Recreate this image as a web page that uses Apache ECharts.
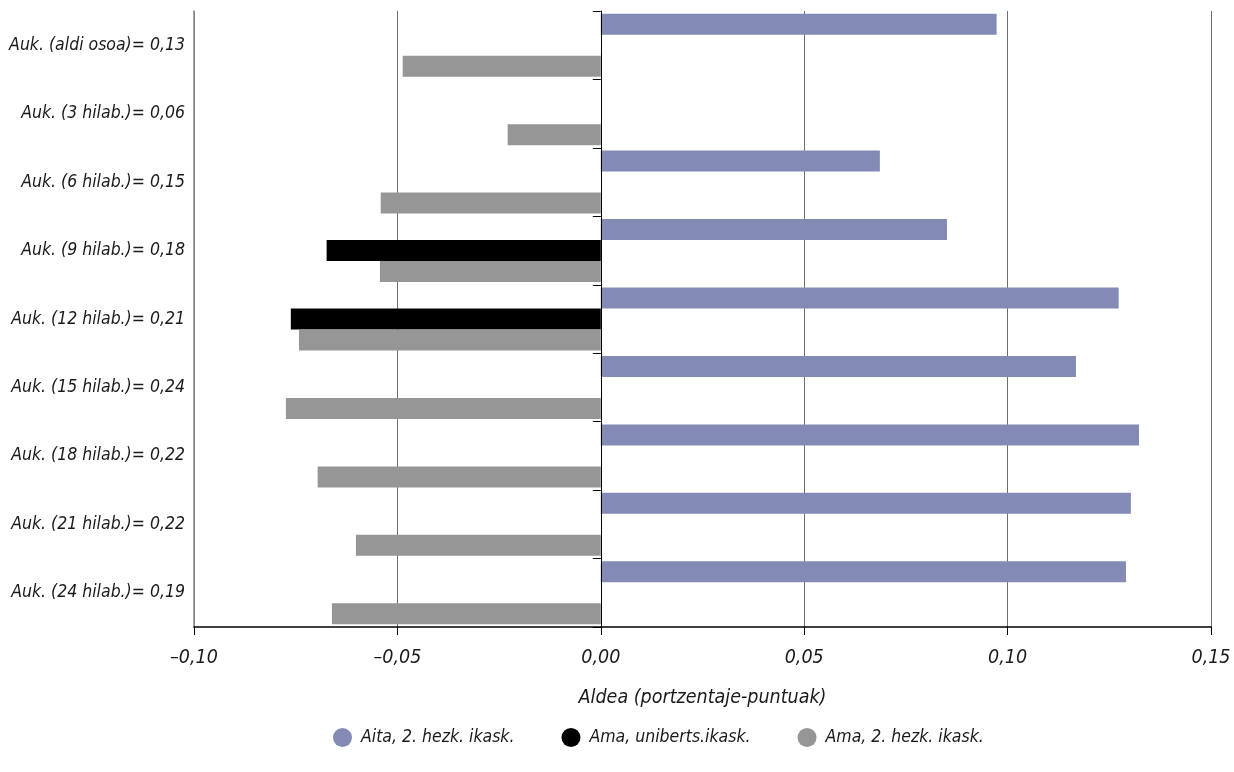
<!DOCTYPE html>
<html>
<head>
<meta charset="utf-8">
<script src="https://cdn.jsdelivr.net/npm/echarts@6/dist/echarts.min.js"></script>
<style>
html,body{margin:0;padding:0;background:#fff;}
#chart{width:1234px;height:772px;}
</style>
</head>
<body>
<div id="chart"></div>
<script>
const categories = [
  'Auk. (aldi osoa)= 0,13',
  'Auk. (3 hilab.)= 0,06',
  'Auk. (6 hilab.)= 0,15',
  'Auk. (9 hilab.)= 0,18',
  'Auk. (12 hilab.)= 0,21',
  'Auk. (15 hilab.)= 0,24',
  'Auk. (18 hilab.)= 0,22',
  'Auk. (21 hilab.)= 0,22',
  'Auk. (24 hilab.)= 0,19'
];
const seriesNames = ['Aita, 2. hezk. ikask.', 'Ama, uniberts.ikask.', 'Ama, 2. hezk. ikask.'];
const aita2hezk = [0.0973, null, 0.0686, 0.0851, 0.1273, 0.1168, 0.1323, 0.1303, 0.1291];
const amaUnib = [null, null, null, -0.0674, -0.0762, null, null, null, null];
const ama2hezk = [-0.0487, -0.0229, -0.0541, -0.0543, -0.0742, -0.0774, -0.0696, -0.0602, -0.0661];
const xTickValues = [-0.10, -0.05, 0.00, 0.05, 0.10, 0.15];
const xTickLabels = ['–0,10', '–0,05', '0,00', '0,05', '0,10', '0,15'];
const xAxisName = 'Aldea (portzentaje-puntuak)';
const colors = ['#838bb4', '#000000', '#969696'];

const FONT = '"Liberation Sans Narrow", "DejaVu Sans Condensed", "Roboto", sans-serif';

function tickLabel(v) {
  const r = Math.round(v * 100);
  for (let i = 0; i < xTickValues.length; i++) {
    if (Math.round(xTickValues[i] * 100) === r) return xTickLabels[i];
  }
  return '';
}

const chart = echarts.init(document.getElementById('chart'), null, {renderer: 'canvas'});
const seriesData = [aita2hezk, amaUnib, ama2hezk];
chart.setOption({
  animation: false,
  color: colors,
  textStyle: {fontFamily: FONT},
  grid: {left: 194, right: 23, top: 11, bottom: 145, containLabel: false},
  legend: {
    bottom: 20,
    left: 328,
    padding: 5,
    icon: 'circle',
    itemWidth: 19,
    itemHeight: 19,
    itemGap: 47,
    textStyle: {fontFamily: FONT, fontStyle: 'italic', fontSize: 17.5, color: '#1a1a1a', padding: [0, 0, 0, 4]},
    data: seriesNames
  },
  xAxis: {
    type: 'value',
    min: -0.10,
    max: 0.15,
    interval: 0.05,
    name: xAxisName,
    nameLocation: 'middle',
    nameGap: 61,
    nameTextStyle: {fontFamily: FONT, fontStyle: 'italic', fontSize: 19.5, color: '#1a1a1a'},
    axisLine: {show: true, onZero: false, lineStyle: {color: '#000', width: 1.5}},
    axisTick: {show: true, length: 8, lineStyle: {color: '#000'}},
    axisLabel: {formatter: tickLabel, fontFamily: FONT, fontStyle: 'italic', fontSize: 19.5, color: '#1a1a1a', margin: 21},
    splitLine: {show: true, lineStyle: {color: '#6e6e6e', width: 1}}
  },
  yAxis: [
    {
      type: 'category',
      data: categories,
      inverse: true,
      axisLine: {show: true, onZero: false, lineStyle: {color: '#8a8a8a', width: 1.5}},
      axisTick: {show: false},
      axisLabel: {fontFamily: FONT, fontStyle: 'italic', fontSize: 17.5, color: '#1a1a1a', margin: 9}
    },
    {
      type: 'category',
      data: categories,
      inverse: true,
      position: 'left',
      axisLine: {show: true, onZero: true, lineStyle: {color: '#000', width: 1}},
      axisTick: {show: true, length: 8, lineStyle: {color: '#000'}},
      axisLabel: {show: false},
      splitLine: {show: false},
      z: 10
    }
  ],
  series: seriesNames.map((n, i) => ({
    name: n,
    type: 'bar',
    yAxisIndex: 0,
    data: seriesData[i],
    barWidth: 21,
    barGap: '0%',
    itemStyle: {color: colors[i]}
  }))
});
</script>
</body>
</html>
